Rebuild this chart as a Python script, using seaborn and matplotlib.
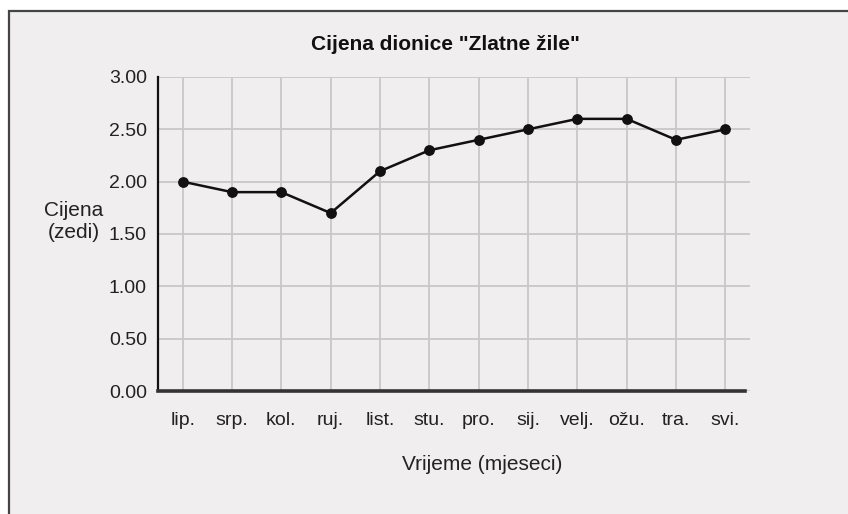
import matplotlib
matplotlib.use("Agg")
import matplotlib.pyplot as plt
from matplotlib.patches import Rectangle
import seaborn as sns
import pandas as pd

months = ["lip.", "srp.", "kol.", "ruj.", "list.", "stu.", "pro.", "sij.", "velj.", "ožu.", "tra.", "svi."]
prices = [2.0, 1.9, 1.9, 1.7, 2.1, 2.3, 2.4, 2.5, 2.6, 2.6, 2.4, 2.5]
y_ticks = [0.0, 0.5, 1.0, 1.5, 2.0, 2.5, 3.0]

title = 'Cijena dionice "Zlatne žile"'
xlabel = "Vrijeme (mjeseci)"
ylabel = "Cijena\n(zedi)"

sns.set_theme(style="white")
plt.rcParams["font.family"] = ["Liberation Sans", "DejaVu Sans"]

W, H = 848, 514
fig = plt.figure(figsize=(W / 100, H / 100), dpi=100, facecolor="white")

bg = "#f0eeef"
frame = Rectangle((8.5 / W, -0.1), 1.2, (H - 10.5) / H + 0.1, transform=fig.transFigure,
                  facecolor=bg, edgecolor="#444444", linewidth=1.6, zorder=-10)
fig.patches.append(frame)

left, right, top, bottom = 158, 750, 77, 391
ax = fig.add_axes([left / W, (H - bottom) / H, (right - left) / W, (bottom - top) / H])
ax.set_facecolor("none")
ax.set_zorder(5)

df = pd.DataFrame({"month": months, "price": prices})
sns.lineplot(data=df, x="month", y="price", sort=False, ax=ax, color="#111111",
             linewidth=1.8, marker="o", markersize=7.8, markeredgewidth=0, zorder=5)

ax.set_xlim(-0.5, len(months) - 0.5)
ax.set_ylim(0, 3.0)
ax.set_yticks(y_ticks)
ax.set_yticklabels([f"{v:.2f}" for v in y_ticks])

ax.grid(True, color="#c8c8c8", linewidth=1.3)
ax.set_axisbelow(True)

for s in ["top", "right"]:
    ax.spines[s].set_visible(False)
ax.spines["left"].set_color("#111111")
ax.spines["left"].set_linewidth(1.6)
ax.spines["bottom"].set_color("#333333")
ax.spines["bottom"].set_linewidth(2.6)
ax.spines["bottom"].set_bounds(-0.5, 11.4)

ax.tick_params(axis="both", which="both", direction="out", length=6, width=1.3,
               color="#c8c8c8", labelsize=14, labelcolor="#222222")
ax.tick_params(axis="x", pad=9)
ax.tick_params(axis="y", pad=2)

ax.set_xlabel("")
ax.set_ylabel("")

fig.text(445 / W, 1 - 45 / H, title, ha="center", va="center", fontsize=15,
         fontweight="bold", color="#111111")
fig.text(482 / W, 1 - 465 / H, xlabel, ha="center", va="center", fontsize=15,
         color="#222222")
fig.text(74 / W, 1 - 222 / H, ylabel, ha="center", va="center", fontsize=15,
         color="#222222", linespacing=1.2)

fig.savefig("out.png", dpi=100, facecolor=fig.get_facecolor())
